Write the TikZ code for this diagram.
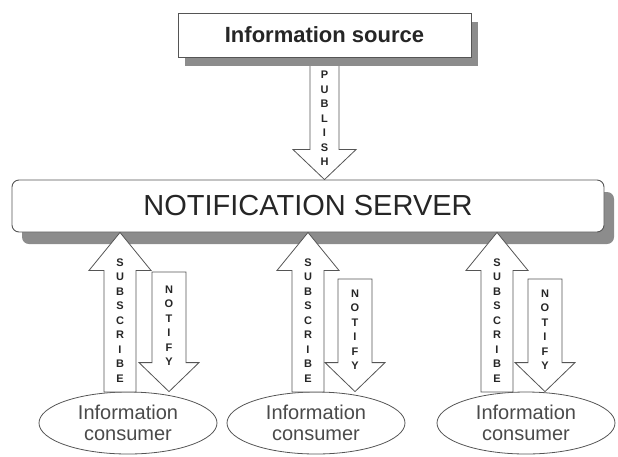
\documentclass[tikz,border=0pt]{standalone}
\usepackage{fontspec}
\setmainfont{Liberation Sans}
\usetikzlibrary{calc,shadows,shapes.geometric,backgrounds}
\definecolor{edge}{HTML}{555555}
\definecolor{shade}{HTML}{8C8C8C}
\definecolor{ink}{HTML}{262626}
\definecolor{inkm}{HTML}{4A4A4A}
\tikzset{
  srcbox/.style={draw=edge, line width=0.9pt, fill=white, minimum width=293pt, minimum height=44pt,
    text=ink, font=\fontsize{22}{24}\selectfont\bfseries,
    general shadow={fill=shade, shadow xshift=7pt, shadow yshift=-9pt}},
  srvbox/.style={draw=edge, line width=0.9pt, fill=white, rounded corners=7pt, minimum width=592pt, minimum height=52pt,
    text=ink, font=\fontsize{29}{31}\selectfont,
    general shadow={fill=shade, shadow xshift=10pt, shadow yshift=-12pt}},
  cons/.style={ellipse, draw=edge, line width=0.8pt, fill=white, minimum width=178pt, minimum height=62pt,
    inner sep=0pt, align=center, text=inkm, font=\fontsize{20}{21}\selectfont},
  blk/.style={draw=edge, line width=0.8pt, fill=white, line join=miter},
  lett/.style={inner sep=0pt, align=center, text=ink, font=\fontsize{11}{14.5}\selectfont\bfseries},
}
% block arrow: from, tip, shaft half width, head half width, head length
\newcommand{\blockarr}[5]{%
  \path (#1) coordinate (ba-s) (#2) coordinate (ba-t) ($(#2)!#5pt!(#1)$) coordinate (ba-h);
  \draw[blk] ($(ba-s)+(-#3,0)$) -- ($(ba-h)+(-#3,0)$) -- ($(ba-h)+(-#4,0)$) -- (ba-t)
    -- ($(ba-h)+(#4,0)$) -- ($(ba-h)+(#3,0)$) -- ($(ba-s)+(#3,0)$) -- cycle;}

\begin{document}
\begin{tikzpicture}[x=1pt,y=-1pt]
\useasboundingbox (0,0) rectangle (618,456);

\node[srcbox] (src) at (324.5,35) {Information source};
\node[srvbox] (srv) at (308,206) {NOTIFICATION SERVER};

% publish
\begin{scope}[on background layer]
  \blockarr{src.south}{src.south |- srv.north}{14.5}{31.5}{30}
\end{scope}
\node[lett] (pub) at ($(src.south)!0.5!(src.south |- srv.north)$) {P\\U\\B\\L\\I\\S\\H};

% consumers
\node[cons] (con1) at (128,423) {Information\\consumer};
\node[cons] (con2) at (316,423) {Information\\consumer};
\node[cons] (con3) at (526,423) {Information\\consumer};

\coordinate (sub1b) at (120,392);
\coordinate (sub2b) at (308,392);
\coordinate (sub3b) at (497,392);
\coordinate (not1t) at (169,272);
\coordinate (not2t) at (355,279);
\coordinate (not3t) at (545,279);

\foreach \i in {1,2,3} {
  \blockarr{sub\i b}{sub\i b |- srv.south}{16}{31}{38}
  \node[lett] (sub\i) at ($(sub\i b)!0.45!(sub\i b |- srv.south)$) {S\\U\\B\\S\\C\\R\\I\\B\\E};
  \blockarr{not\i t}{not\i t |- con\i.north}{17}{30}{29}
  \node[lett] (not\i) at ($(not\i t)!0.45!(not\i t |- con\i.north)$) {N\\O\\T\\I\\F\\Y};
}
\end{tikzpicture}
\end{document}
